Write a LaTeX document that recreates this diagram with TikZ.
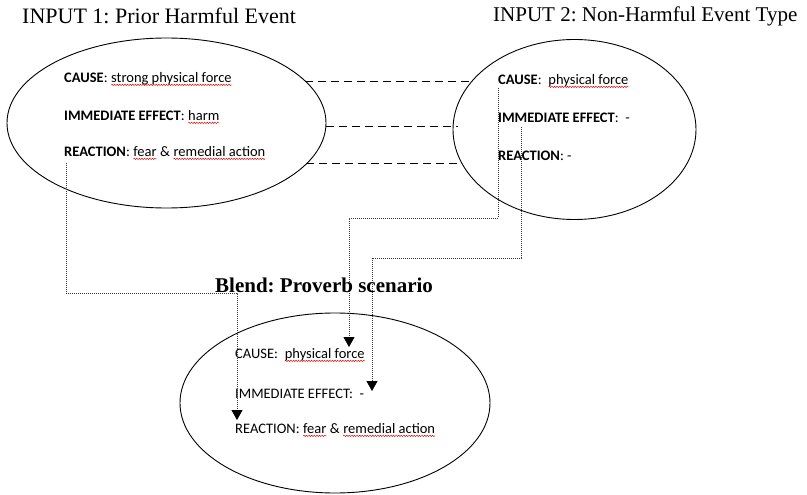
\documentclass[tikz,border=0pt]{standalone}
\usepackage{fontspec}
\setmainfont{Liberation Serif}
\newfontfamily\bodyfont{Carlito}
\usetikzlibrary{arrows.meta,shapes.geometric,decorations.pathmorphing}
\newcommand\sq[1]{\tikz[baseline=(w.base)]{\node[anchor=base west,inner sep=0pt,outer sep=0pt,draw=none] (w) {#1};
  \draw[red!85!black, line width=0.45pt, decorate, decoration={snake,amplitude=0.7pt,segment length=2.6pt}]
    ([yshift=-2.6pt]w.base west) -- ([yshift=-2.6pt]w.base east);}}
\frenchspacing
\begin{document}
\begin{tikzpicture}[x=1pt,y=-1pt,
  ell/.style={draw, ellipse, line width=0.9pt, inner sep=0pt},
  lbl/.style={anchor=west, inner sep=0pt, font=\bodyfont\fontsize{14.5}{16}\selectfont},
  ttl/.style={anchor=west, inner sep=0pt, font=\fontsize{21}{24}\selectfont},
  mapline/.style={dash pattern=on 8pt off 5pt, line width=0.9pt},
  proj/.style={dash pattern=on 1pt off 1pt, line width=0.9pt, black!80,
    -{Triangle[width=11pt,length=10pt,black]}}]
\useasboundingbox (0,0) rectangle (807,495);

% titles
\node[ttl, font=\fontsize{22}{24}\selectfont] (t1) at (22,16) {INPUT 1: Prior Harmful Event};
\node[ttl] (t2) at (493,16) {INPUT 2: Non-Harmful Event Type};

% ellipses
\node[ell, minimum width=319pt, minimum height=170pt] (e1) at (166.5,123) {};
\node[ell, minimum width=243pt, minimum height=180pt] (e2) at (574.5,129.5) {};
\node[ell, minimum width=310pt, minimum height=180pt] (e3) at (335,403) {};

% input 1 text
\node[lbl] (a1) at (64,79) {\textbf{CAUSE}: \sq{strong physical force}};
\node[lbl] (a2) at (64,117) {\textbf{IMMEDIATE EFFECT}: \sq{harm}};
\node[lbl] (a3) at (64,153) {\textbf{REACTION}: \sq{fear} \& \sq{remedial action}};

% input 2 text
\node[lbl] (b1) at (498,81) {\textbf{CAUSE}:~ \sq{physical force}};
\node[lbl] (b2) at (498,118) {\textbf{IMMEDIATE EFFECT}:~ -};
\node[lbl] (b3) at (498,156) {\textbf{REACTION}: -};

% blend text
\node[lbl] (c1) at (235,355) {CAUSE:~ \sq{physical force}};
\node[lbl] (c2) at (235,394) {IMMEDIATE EFFECT:~ -};
\node[lbl] (c3) at (235,430) {REACTION: \sq{fear} \& \sq{remedial action}};

% cross-space mapping (dashed)
\coordinate (m1a) at (305,81);  \coordinate (m1b) at (471,81);
\coordinate (m2a) at (326,126); \coordinate (m2b) at (458,126);
\coordinate (m3a) at (306,163); \coordinate (m3b) at (461,163);
\draw[mapline] (m1a) -- (m1b);
\draw[mapline] (m2a) -- (m2b);
\draw[mapline] (m3a) -- (m3b);

% projections (dotted with arrows)
\coordinate (p1s) at (66,163);  \coordinate (p1e) at (237,420);
\coordinate (p2s) at (498,88);  \coordinate (p2e) at (349,347);
\coordinate (p3s) at (521,127); \coordinate (p3e) at (372,391);
\draw[proj] (p1s) -- (66,293) -- (237,293) -- (p1e);
\draw[proj] (p2s) -- (498,218) -- (349,218) -- (p2e);
\draw[proj] (p3s) -- (521,258) -- (372,258) -- (p3e);

% blend title
\node[ttl, font=\bfseries\fontsize{21}{24}\selectfont] (t3) at (215,285) {Blend: Proverb scenario};
\end{tikzpicture}
\end{document}
